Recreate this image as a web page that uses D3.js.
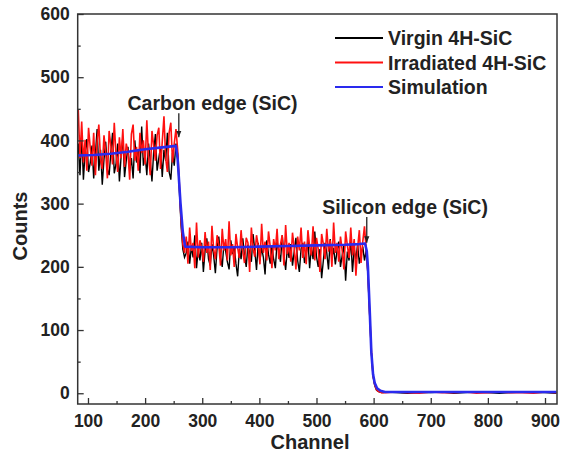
<!DOCTYPE html>
<html>
<head>
<meta charset="utf-8">
<script src="https://cdn.jsdelivr.net/npm/d3@7"></script>
<style>
body { margin: 0; background: #fff; }
text { font-family: "Liberation Sans", Arial, sans-serif; font-weight: bold; fill: #222; }
</style>
</head>
<body>
<svg id="chart"></svg>
<script>
const width = 562;
const height = 457;
const margin = {top: 14, right: 5, bottom: 53, left: 77.7};

// Channel axis of the noisy spectra: first channel and spacing of the main arrays
const mainStart = 80;
const mainStep = 3;
// Tail (background after the silicon edge), sparser sampling
const tailChannels = [620, 640, 660, 680, 700, 720, 740, 760, 780, 800, 820, 840, 860, 880, 900, 920];

// Irradiated 4H-SiC counts
const irradiatedCounts = [
    415, 448, 372, 430, 365, 401, 352, 420, 388, 360,
    412, 345, 398, 425, 370, 355, 408, 382, 340, 415,
    392, 362, 428, 378, 350, 405, 372, 418, 358, 395,
    382, 338, 410, 425, 368, 390, 352, 412, 380, 400,
    362, 432, 375, 345, 415, 392, 368, 408, 420, 355,
    398, 438, 372, 350, 412, 428, 365, 395, 418,
    385, 330, 272, 236, 222,
    248, 205, 262, 225, 238, 198, 270, 215, 242, 230,
    208, 255, 222, 240, 195, 265, 228, 212, 250, 235,
    202, 260, 226, 244, 210, 272, 218, 236, 200, 252,
    230, 214, 258, 224, 206, 246, 238, 192, 262, 228,
    216, 250, 234, 204, 268, 222, 240, 210, 256, 232,
    198, 244, 226, 260, 212, 236, 250, 202, 266, 220,
    238, 208, 254, 230, 196, 248, 226, 262, 214, 240,
    204, 258, 232, 218, 264, 210, 246, 228, 192, 252,
    236, 212, 260, 224, 242, 200, 270, 222, 238, 208,
    248, 226, 196, 256, 234, 214, 262, 218, 244, 186,
    230, 258, 206, 240, 264,
    228, 192, 128, 68, 28, 13, 6, 3, 2, 1, 1
];
const irradiatedTail = [1, 2, 1, 0, 2, 1, 1, 2, 0, 1, 2, 1, 1, 0, 2, 1];

// Virgin 4H-SiC counts
const virginCounts = [
    372, 395, 345, 410, 338, 382, 402, 350, 365, 392,
    340, 378, 418, 352, 385, 330, 370, 398, 355, 345,
    380, 412, 348, 362, 395, 335, 375, 405, 342, 368,
    390, 352, 372, 340, 400, 365, 385, 348, 422, 360,
    378, 345, 395, 368, 335, 382, 410, 352, 372, 390,
    342, 385, 368, 412, 350, 338, 380, 360, 395,
    378, 320, 265, 228, 215,
    222, 240, 205, 232, 215, 250, 198, 228, 210, 238,
    192, 226, 245, 212, 202, 236, 218, 190, 230, 248,
    215, 200, 238, 225, 208, 196, 242, 220, 232, 205,
    185, 228, 212, 245, 218, 200, 235, 222, 208, 252,
    226, 195, 238, 210, 230, 215, 188, 242, 220, 205,
    232, 212, 198, 240, 225, 208, 250, 218, 195, 230,
    214, 236, 202, 224, 246, 210, 192, 228, 238, 206,
    220, 242, 198, 232, 212, 256, 216, 200, 228, 182,
    210, 238, 222, 196, 244, 214, 230, 204, 226, 240,
    200, 218, 235, 178, 224, 210, 245, 192, 228, 212,
    236, 205, 220, 232, 210,
    226, 188, 125, 66, 27, 12, 5, 3, 2, 1, 1
];
const virginTail = [2, 1, 0, 1, 1, 2, 0, 1, 2, 1, 0, 1, 2, 1, 1, 0];

// Simulation curve
const simChannels = [80, 110, 140, 170, 200, 230, 250, 254, 257, 262, 266, 270, 300, 350, 400, 450, 500, 550, 575, 585, 588, 590, 593, 596, 599, 602, 606, 612, 620, 700, 800, 920];
const simCounts   = [376, 377, 379, 382, 386, 389, 391, 391, 370, 300, 255, 232, 231, 231, 232, 233, 234, 235, 236, 237, 225, 200, 135, 65, 30, 16, 8, 4, 2, 2, 2, 2];

// Legend and annotations
const legendNames = ['Virgin 4H-SiC', 'Irradiated 4H-SiC', 'Simulation'];
const legendColors = ['#000000', '#ff1010', '#2a2aee'];
const xTicks = [100, 200, 300, 400, 500, 600, 700, 800, 900];
const xMinor = [150, 250, 350, 450, 550, 650, 750, 850];
const yTicks = [0, 100, 200, 300, 400, 500, 600];
const yMinor = [50, 150, 250, 350, 450, 550];

const svg = d3.select("#chart")
    .attr("width", width)
    .attr("height", height);

const x = d3.scaleLinear()
    .domain([82, 921])
    .range([margin.left, width - margin.right]);

const y = d3.scaleLinear()
    .domain([-17, 600])
    .range([height - margin.bottom, margin.top]);

svg.append("clipPath")
    .attr("id", "plot-clip")
    .append("rect")
    .attr("x", margin.left)
    .attr("y", margin.top)
    .attr("width", width - margin.left - margin.right)
    .attr("height", height - margin.top - margin.bottom);

function buildSeries(main, tail) {
    return main.map((c, i) => [mainStart + i * mainStep, c])
        .concat(tail.map((c, i) => [tailChannels[i], c]));
}

const virgin = buildSeries(virginCounts, virginTail);
const irradiated = buildSeries(irradiatedCounts, irradiatedTail);
const simulation = simChannels.map((c, i) => [c, simCounts[i]]);

const line = d3.line()
    .x(d => x(d[0]))
    .y(d => y(d[1]));

const plot = svg.append("g").attr("clip-path", "url(#plot-clip)");

plot.append("path")
    .datum(virgin)
    .attr("d", line)
    .attr("fill", "none")
    .attr("stroke", legendColors[0])
    .attr("stroke-width", 1.4);

plot.append("path")
    .datum(irradiated)
    .attr("d", line)
    .attr("fill", "none")
    .attr("stroke", legendColors[1])
    .attr("stroke-width", 1.6);

plot.append("path")
    .datum(simulation)
    .attr("d", line)
    .attr("fill", "none")
    .attr("stroke", legendColors[2])
    .attr("stroke-width", 2.6)
    .attr("stroke-linejoin", "round");

// Axes (ticks point inward)
const xAxis = svg.append("g")
    .attr("transform", `translate(0,${height - margin.bottom})`)
    .call(d3.axisBottom(x).tickValues(xTicks).tickSizeInner(-6).tickSizeOuter(0).tickPadding(11));
xAxis.selectAll("text").style("font-size", "17.5px");

svg.append("g")
    .attr("transform", `translate(0,${height - margin.bottom})`)
    .call(d3.axisBottom(x).tickValues(xMinor).tickSizeInner(-3).tickSizeOuter(0).tickFormat(""));

const yAxis = svg.append("g")
    .attr("transform", `translate(${margin.left},0)`)
    .call(d3.axisLeft(y).tickValues(yTicks).tickSizeInner(-6).tickSizeOuter(0).tickPadding(8));
yAxis.selectAll("text").style("font-size", "17.5px");

svg.append("g")
    .attr("transform", `translate(${margin.left},0)`)
    .call(d3.axisLeft(y).tickValues(yMinor).tickSizeInner(-3).tickSizeOuter(0).tickFormat(""));

svg.selectAll(".domain").remove();
svg.selectAll(".tick line").attr("stroke", "#333").attr("stroke-width", 1.3);

// Frame
svg.append("rect")
    .attr("x", margin.left)
    .attr("y", margin.top)
    .attr("width", width - margin.left - margin.right)
    .attr("height", height - margin.top - margin.bottom)
    .attr("fill", "none")
    .attr("stroke", "#333")
    .attr("stroke-width", 1.5);

// Axis titles
svg.append("text")
    .attr("x", 310)
    .attr("y", 449)
    .attr("text-anchor", "middle")
    .style("font-size", "20px")
    .text("Channel");

svg.append("text")
    .attr("transform", "translate(27,226) rotate(-90)")
    .attr("text-anchor", "middle")
    .style("font-size", "20px")
    .text("Counts");

// Edge annotations
const annotations = [
    {label: 'Carbon edge (SiC)', labelX: 318, labelY: 448, arrowX: 259, from: 443, to: 405},
    {label: 'Silicon edge (SiC)', labelX: 655, labelY: 283, arrowX: 588, from: 279, to: 238}
];

svg.append("defs").append("marker")
    .attr("id", "arrowhead")
    .attr("viewBox", "0 0 10 10")
    .attr("refX", 10)
    .attr("refY", 5)
    .attr("markerWidth", 5)
    .attr("markerHeight", 5)
    .attr("orient", "auto")
    .append("path")
    .attr("d", "M0,1L10,5L0,9Z")
    .attr("fill", "#222");

annotations.forEach(a => {
    svg.append("line")
        .attr("x1", x(a.arrowX))
        .attr("x2", x(a.arrowX))
        .attr("y1", y(a.from))
        .attr("y2", y(a.to))
        .attr("stroke", "#222")
        .attr("stroke-width", 1.3)
        .attr("marker-end", "url(#arrowhead)");

    svg.append("text")
        .attr("x", x(a.labelX))
        .attr("y", y(a.labelY))
        .attr("text-anchor", "middle")
        .style("font-size", "19.5px")
        .text(a.label);
});

// Legend
const legend = svg.append("g").attr("transform", "translate(335,38)");
legendNames.forEach((name, i) => {
    const row = legend.append("g").attr("transform", `translate(0,${i * 24.5})`);
    row.append("line")
        .attr("x1", 0)
        .attr("x2", 48)
        .attr("stroke", legendColors[i])
        .attr("stroke-width", i === 2 ? 2.2 : 1.8);
    row.append("text")
        .attr("x", 53)
        .attr("dy", "0.36em")
        .style("font-size", "19.5px")
        .text(name);
});
</script>
</body>
</html>
